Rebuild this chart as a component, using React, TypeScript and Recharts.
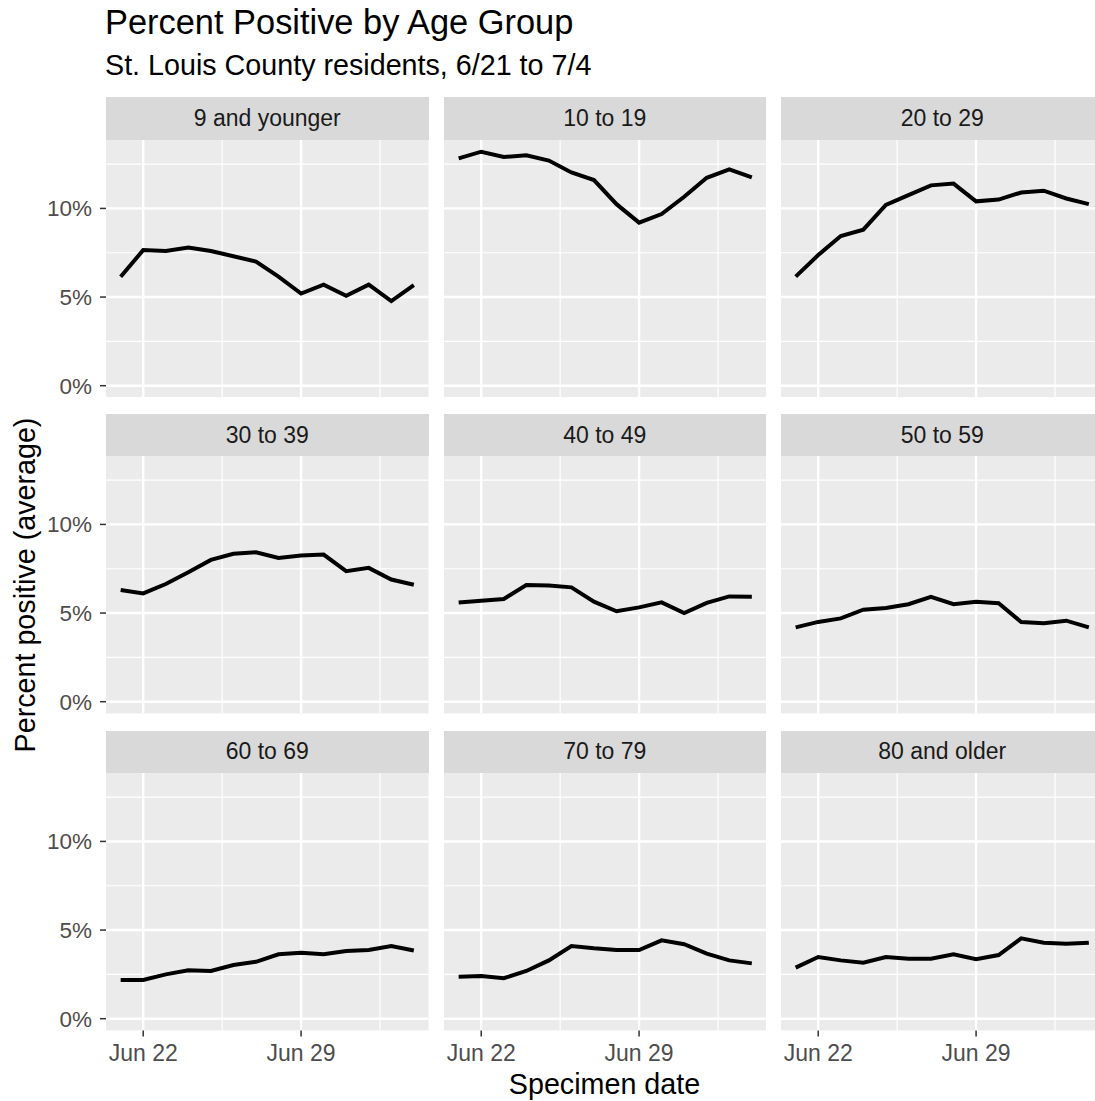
import React from "react";
import { LineChart, Line, XAxis, YAxis, CartesianGrid, ReferenceLine } from "recharts";

// Specimen dates, 6/21 to 7/4
const dates = [
  "Jun 21", "Jun 22", "Jun 23", "Jun 24", "Jun 25", "Jun 26", "Jun 27",
  "Jun 28", "Jun 29", "Jun 30", "Jul 1", "Jul 2", "Jul 3", "Jul 4",
];

const ageGroups = [
  "9 and younger", "10 to 19", "20 to 29",
  "30 to 39", "40 to 49", "50 to 59",
  "60 to 69", "70 to 79", "80 and older",
];

// percent positive (average), one value per date
const age0to9 = [6.15, 7.65, 7.6, 7.8, 7.6, 7.3, 7.0, 6.15, 5.2, 5.7, 5.07, 5.7, 4.77, 5.68];
const age10to19 = [12.82, 13.2, 12.9, 13.0, 12.7, 12.03, 11.6, 10.24, 9.2, 9.68, 10.66, 11.73, 12.2, 11.75];
const age20to29 = [6.15, 7.37, 8.44, 8.8, 10.2, 10.75, 11.3, 11.4, 10.4, 10.5, 10.9, 11.0, 10.56, 10.24];
const age30to39 = [6.3, 6.11, 6.64, 7.3, 8.0, 8.34, 8.43, 8.11, 8.25, 8.3, 7.36, 7.55, 6.89, 6.6];
const age40to49 = [5.6, 5.7, 5.79, 6.58, 6.55, 6.45, 5.64, 5.1, 5.32, 5.6, 5.0, 5.57, 5.94, 5.92];
const age50to59 = [4.19, 4.5, 4.7, 5.19, 5.28, 5.5, 5.92, 5.5, 5.64, 5.55, 4.5, 4.43, 4.57, 4.19];
const age60to69 = [2.18, 2.18, 2.5, 2.73, 2.69, 3.03, 3.21, 3.63, 3.72, 3.63, 3.82, 3.87, 4.1, 3.85];
const age70to79 = [2.37, 2.41, 2.28, 2.69, 3.29, 4.1, 3.97, 3.87, 3.87, 4.42, 4.2, 3.67, 3.29, 3.12];
const age80plus = [2.88, 3.48, 3.29, 3.16, 3.48, 3.38, 3.38, 3.63, 3.35, 3.59, 4.53, 4.29, 4.23, 4.29];

const seriesByGroup = [
  age0to9, age10to19, age20to29,
  age30to39, age40to49, age50to59,
  age60to69, age70to79, age80plus,
];

const xTicks = [1, 8]; // Jun 22, Jun 29
const xMinor = [4.5, 11.5];
const yTicks = [0, 5, 10];
const yMinor = [2.5, 7.5, 12.5];

// layout
const PANEL_LEFT = [106, 443.5, 781];
const PANEL_W = 322.5;
const STRIP_TOP = [97, 413.8, 730.6];
const STRIP_H = 42.5;
const PANEL_H = 257.4;
const Y_AXIS_W = 80;
const X_AXIS_H = 44;

const FONT = "'Liberation Sans', Arial, Helvetica, sans-serif";

function Panel({ idx }: { idx: number }) {
  const col = idx % 3;
  const row = Math.floor(idx / 3);
  const showY = col === 0;
  const showX = row === 2;
  const data = dates.map((d, i) => ({ day: i, date: d, value: seriesByGroup[idx][i] }));
  const left = PANEL_LEFT[col];
  const top = STRIP_TOP[row];

  return (
    <>
      <div
        style={{
          position: "absolute",
          left,
          top,
          width: PANEL_W,
          height: STRIP_H,
          background: "#D9D9D9",
          color: "#1A1A1A",
          fontSize: 23,
          display: "flex",
          alignItems: "center",
          justifyContent: "center",
        }}
      >
        {ageGroups[idx]}
      </div>
      <div
        style={{
          position: "absolute",
          left: left - (showY ? Y_AXIS_W : 0),
          top: top + STRIP_H,
        }}
      >
        <LineChart
          width={PANEL_W + (showY ? Y_AXIS_W : 0)}
          height={PANEL_H + (showX ? X_AXIS_H : 0)}
          data={data}
          margin={{ top: 0, right: 0, bottom: 0, left: 0 }}
        >
          <CartesianGrid fill="#EBEBEB" stroke="none" horizontal={false} vertical={false} />
          <XAxis
            type="number"
            dataKey="day"
            domain={[-0.65, 13.65]}
            allowDataOverflow
            ticks={xTicks}
            tickFormatter={(v: number) => dates[v]}
            hide={!showX}
            height={X_AXIS_H}
            axisLine={false}
            tickLine={{ stroke: "#333333", strokeWidth: 1.5 }}
            tickSize={6}
            tickMargin={8}
            tick={{ fill: "#4D4D4D", fontSize: 23 }}
            interval={0}
          />
          <YAxis
            type="number"
            domain={[-0.66, 13.86]}
            allowDataOverflow
            ticks={yTicks}
            tickFormatter={(v: number) => `${v}%`}
            hide={!showY}
            width={Y_AXIS_W}
            axisLine={false}
            tickLine={{ stroke: "#333333", strokeWidth: 1.5 }}
            tickSize={6}
            tickMargin={8}
            tick={{ fill: "#4D4D4D", fontSize: 22.5 }}
            interval={0}
          />
          {yMinor.map((v) => (
            <ReferenceLine key={`ym${v}`} y={v} stroke="#FFFFFF" strokeWidth={1.2} />
          ))}
          {xMinor.map((v) => (
            <ReferenceLine key={`xm${v}`} x={v} stroke="#FFFFFF" strokeWidth={1.2} />
          ))}
          {yTicks.map((v) => (
            <ReferenceLine key={`y${v}`} y={v} stroke="#FFFFFF" strokeWidth={2.4} />
          ))}
          {xTicks.map((v) => (
            <ReferenceLine key={`x${v}`} x={v} stroke="#FFFFFF" strokeWidth={2.4} />
          ))}
          <Line
            type="linear"
            dataKey="value"
            stroke="#000000"
            strokeWidth={4}
            dot={false}
            activeDot={false}
            isAnimationActive={false}
          />
        </LineChart>
      </div>
    </>
  );
}

export default function App() {
  return (
    <div
      style={{
        position: "absolute",
        left: 0,
        top: 0,
        width: 1095,
        height: 1101,
        overflow: "hidden",
        background: "#FFFFFF",
        fontFamily: FONT,
      }}
    >
      <div style={{ position: "absolute", left: 105, top: 5, fontSize: 34.4, lineHeight: 1, color: "#000000", whiteSpace: "nowrap" }}>
        Percent Positive by Age Group
      </div>
      <div style={{ position: "absolute", left: 105, top: 51, fontSize: 28.7, lineHeight: 1, color: "#000000", whiteSpace: "nowrap" }}>
        St. Louis County residents, 6/21 to 7/4
      </div>
      {ageGroups.map((_, i) => (
        <Panel key={i} idx={i} />
      ))}
      <div
        style={{
          position: "absolute",
          left: 24.5,
          top: 585,
          transform: "translate(-50%, -50%) rotate(-90deg)",
          fontSize: 28.7,
          lineHeight: 1,
          whiteSpace: "nowrap",
          color: "#000000",
        }}
      >
        Percent positive (average)
      </div>
      <div
        style={{
          position: "absolute",
          left: 604.5,
          top: 1070,
          transform: "translateX(-50%)",
          fontSize: 28.7,
          lineHeight: 1,
          whiteSpace: "nowrap",
          color: "#000000",
        }}
      >
        Specimen date
      </div>
    </div>
  );
}
